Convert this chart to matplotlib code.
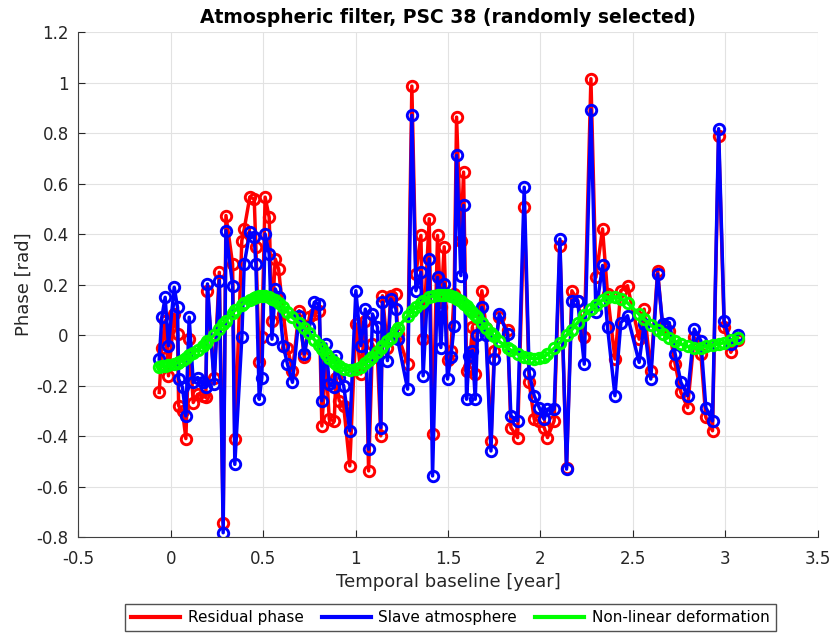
import matplotlib
matplotlib.use("Agg")
import matplotlib.pyplot as plt
from matplotlib.ticker import FuncFormatter
import numpy as np

# Temporal baseline of each acquisition [year]
years = [-0.063, -0.049, -0.031, -0.013, 0.018, 0.036, 0.042, 0.063, 0.081, 0.099,
         0.121, 0.145, 0.172, 0.189, 0.198, 0.234, 0.262, 0.283, 0.298, 0.334,
         0.346, 0.384, 0.397, 0.427, 0.451, 0.460, 0.478, 0.492, 0.510, 0.532,
         0.547, 0.565, 0.583, 0.608, 0.631, 0.658, 0.694, 0.722, 0.749, 0.776,
         0.803, 0.817, 0.839, 0.857, 0.884, 0.893, 0.911, 0.935, 0.968, 1.001,
         1.028, 1.052, 1.070, 1.091, 1.118, 1.136, 1.145, 1.172, 1.190, 1.218,
         1.227, 1.281, 1.304, 1.326, 1.353, 1.365, 1.398, 1.416, 1.443, 1.461,
         1.479, 1.497, 1.515, 1.533, 1.546, 1.569, 1.584, 1.600, 1.614, 1.632,
         1.647, 1.659, 1.683, 1.705, 1.732, 1.750, 1.777, 1.822, 1.840, 1.876,
         1.912, 1.939, 1.966, 1.993, 2.020, 2.038, 2.074, 2.105, 2.141, 2.170,
         2.201, 2.237, 2.273, 2.300, 2.336, 2.363, 2.403, 2.435, 2.471, 2.534,
         2.561, 2.597, 2.634, 2.661, 2.697, 2.729, 2.760, 2.796, 2.832, 2.868,
         2.895, 2.931, 2.964, 2.994, 3.030, 3.067]

residual_phase = [-0.227, -0.049, 0.057, -0.161, 0.084, 0.004, -0.280, -0.300, -0.410, -0.016,
                  -0.267, -0.234, -0.240, -0.247, 0.176, -0.170, 0.249, -0.743, 0.474, 0.282,
                  -0.412, 0.375, 0.421, 0.547, 0.540, 0.348, -0.108, -0.009, 0.547, 0.467,
                  0.057, 0.302, 0.262, 0.084, -0.049, -0.141, 0.097, -0.088, 0.071, 0.084,
                  0.097, -0.360, -0.100, -0.333, -0.340, -0.168, -0.260, -0.280, -0.518, 0.044,
                  -0.154, 0.057, -0.538, -0.035, -0.088, -0.399, 0.156, -0.050, 0.156, 0.163,
                  0.004, -0.115, 0.987, 0.242, 0.395, -0.016, 0.461, -0.392, 0.395, 0.110,
                  0.350, -0.100, -0.062, 0.163, 0.864, 0.375, 0.646, -0.141, -0.128, 0.031,
                  -0.154, 0.031, 0.176, 0.030, -0.419, -0.062, 0.071, 0.020, -0.366, -0.406,
                  0.507, -0.187, -0.333, -0.340, -0.366, -0.406, -0.340, 0.355, -0.525, 0.176,
                  0.137, -0.009, 1.016, 0.229, 0.421, 0.163, -0.095, 0.176, 0.196, -0.016,
                  0.103, -0.141, 0.256, 0.031, 0.018, -0.115, -0.227, -0.287, -0.009, -0.075,
                  -0.326, -0.379, 0.791, 0.031, -0.068, -0.020]

slave_atmosphere = [-0.095, 0.071, 0.150, -0.042, 0.190, 0.110, -0.174, -0.207, -0.320, 0.071,
                    -0.187, -0.168, -0.187, -0.207, 0.203, -0.194, 0.216, -0.783, 0.414, 0.196,
                    -0.512, -0.009, 0.282, 0.408, 0.388, 0.282, -0.254, -0.168, 0.401, 0.322,
                    -0.016, 0.183, 0.150, -0.042, -0.115, -0.187, 0.077, -0.075, 0.031, 0.130,
                    0.123, -0.260, -0.035, -0.194, -0.207, -0.082, -0.168, -0.200, -0.379, 0.176,
                    -0.042, 0.103, -0.452, 0.084, 0.031, -0.366, 0.130, -0.101, 0.143, 0.103,
                    -0.016, -0.214, 0.871, 0.176, 0.249, -0.161, 0.302, -0.558, 0.229, -0.049,
                    0.203, -0.174, -0.088, 0.037, 0.712, 0.236, 0.514, -0.254, -0.082, -0.062,
                    -0.254, 0.000, 0.110, 0.000, -0.459, -0.095, 0.084, 0.004, -0.320, -0.340,
                    0.586, -0.150, -0.240, -0.287, -0.333, -0.293, -0.293, 0.381, -0.531, 0.137,
                    0.137, -0.115, 0.893, 0.090, 0.276, 0.031, -0.240, 0.050, 0.077, -0.108,
                    0.044, -0.174, 0.242, 0.044, 0.050, -0.075, -0.187, -0.240, 0.024, -0.022,
                    -0.287, -0.340, 0.818, 0.057, -0.035, 0.000]

nonlinear_deformation = [-0.125, -0.124, -0.122, -0.120, -0.115, -0.110, -0.108, -0.100, -0.090, -0.080,
                         -0.070, -0.058, -0.042, -0.032, -0.022, 0.000, 0.025, 0.045, 0.058, 0.088,
                         0.098, 0.120, 0.128, 0.140, 0.148, 0.150, 0.155, 0.156, 0.155, 0.150,
                         0.145, 0.138, 0.128, 0.110, 0.092, 0.070, 0.048, 0.030, 0.010, -0.018,
                         -0.040, -0.055, -0.075, -0.090, -0.108, -0.114, -0.124, -0.134, -0.140, -0.136,
                         -0.126, -0.112, -0.100, -0.086, -0.066, -0.052, -0.044, -0.024, -0.010, 0.018,
                         0.028, 0.076, 0.096, 0.110, 0.128, 0.135, 0.150, 0.155, 0.160, 0.161,
                         0.160, 0.158, 0.155, 0.150, 0.145, 0.135, 0.125, 0.115, 0.105, 0.092,
                         0.080, 0.070, 0.050, 0.030, 0.010, -0.005, -0.025, -0.050, -0.060, -0.075,
                         -0.085, -0.090, -0.094, -0.092, -0.086, -0.076, -0.052, -0.030, 0.000, 0.022,
                         0.050, 0.080, 0.102, 0.120, 0.140, 0.150, 0.152, 0.145, 0.128, 0.082,
                         0.062, 0.040, 0.020, 0.005, -0.010, -0.025, -0.035, -0.045, -0.050, -0.050,
                         -0.045, -0.040, -0.035, -0.030, -0.020, -0.010]

fig = plt.figure(figsize=(8.34, 6.35), dpi=100)
ax = fig.add_axes([0.0941, 0.1543, 0.8863, 0.7948])

style = dict(marker='o', markerfacecolor='none', linewidth=2.5, markersize=7.5, markeredgewidth=2.1)
ax.plot(years, residual_phase, color=(1, 0, 0), label='Residual phase', **style)
ax.plot(years, slave_atmosphere, color=(0, 0, 1), label='Slave atmosphere', **style)
ax.plot(years, nonlinear_deformation, color=(0, 1, 0), label='Non-linear deformation', **style)

ax.set_xlim(-0.5, 3.5)
ax.set_ylim(-0.8, 1.2)
ax.set_xticks(np.arange(-0.5, 3.51, 0.5))
ax.set_yticks(np.arange(-0.8, 1.21, 0.2))
fmt = FuncFormatter(lambda v, p: f'{round(v, 2) + 0.0:g}')
ax.xaxis.set_major_formatter(fmt)
ax.yaxis.set_major_formatter(fmt)
ax.tick_params(direction='in', labelsize=12, length=5, colors='#262626', width=0.8)
ax.tick_params(axis='x', pad=9)
ax.tick_params(axis='y', pad=7)
ax.grid(True, color='#e2e2e2', linewidth=0.8)
ax.set_axisbelow(True)
ax.spines['top'].set_visible(False)
ax.spines['right'].set_visible(False)
for s in ['left', 'bottom']:
    ax.spines[s].set_color('#404040')
    ax.spines[s].set_linewidth(0.8)

ax.set_xlabel('Temporal baseline [year]', fontsize=13, color='#262626', labelpad=4)
ax.set_ylabel('Phase [rad]', fontsize=13, color='#262626', labelpad=3)
ax.set_title('Atmospheric filter, PSC 38 (randomly selected)', fontsize=13.5, fontweight='bold', pad=7)

leg_handles = [plt.Line2D([], [], color=c, linewidth=3) for c in [(1, 0, 0), (0, 0, 1), (0, 1, 0)]]
fig.legend(leg_handles, ['Residual phase', 'Slave atmosphere', 'Non-linear deformation'],
           loc='lower center', bbox_to_anchor=(0.54, -0.006), ncol=3, fontsize=11,
           frameon=True, fancybox=False, edgecolor='#262626', handlelength=3.2,
           columnspacing=1.2, handletextpad=0.5, borderpad=0.4)

fig.savefig('out.png', dpi=100)
